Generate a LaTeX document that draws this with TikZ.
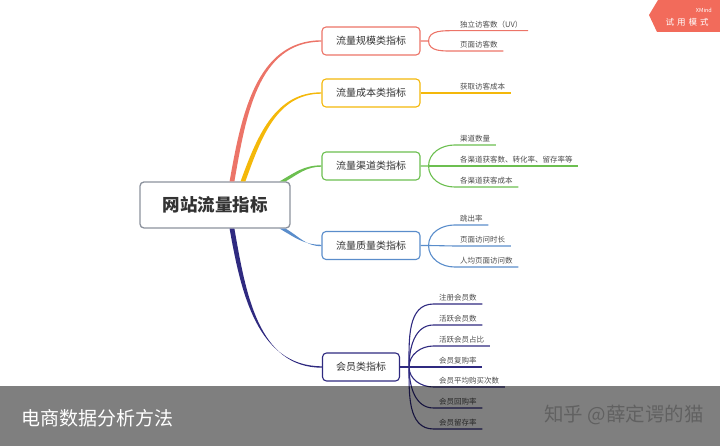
\documentclass[tikz,border=0pt]{standalone}
\usepackage{fontspec}
\setmainfont{Noto Sans CJK SC}
\usetikzlibrary{calc}
\definecolor{cred}{HTML}{EC7468}
\definecolor{cyellow}{HTML}{F4B80A}
\definecolor{cgreen}{HTML}{6CBF50}
\definecolor{cblue}{HTML}{5A8DCB}
\definecolor{cnavy}{HTML}{2F2A80}
\definecolor{cgray}{HTML}{8C929D}
\definecolor{cbadge}{HTML}{F26B5B}
% tapered trunk: colour, start, end, out angle, half width at start
\def\trunkfill[#1](#2)(#3)(#4:#5){\fill[#1] ($(#2)+(-#5,0)$) to[out=#4, in=180] ($(#3)+(0,0.7)$) -- ($(#3)+(0,-0.7)$) to[out=180, in=#4] ($(#2)+(#5,0)$) -- cycle;}
\tikzset{
	rootbox/.style={draw=cgray, line width=1.3pt, rounded corners=4pt, fill=white, minimum width=150pt, minimum height=46pt, font=\fontsize{17.5}{20}\selectfont\bfseries, text=black!80},
	topicbox/.style={draw=#1, line width=1.1pt, rounded corners=4pt, fill=white, minimum height=28pt, inner xsep=0pt, font=\fontsize{10}{12}\selectfont, text=black!80},
	leaf/.style={anchor=south west, inner xsep=5.5pt, inner ysep=2.5pt, font=\fontsize{7.5}{9}\selectfont, text=black!70},
	twig/.style={#1, line width=1.1pt},
}
\begin{document}
\begin{tikzpicture}[x=1pt, y=1pt]
			%%%%% START %%%%%
			\useasboundingbox (0,0) rectangle (720,446);
			
			\node[rootbox] (root) at (215,241) {网站流量指标};
			
			\node[topicbox=cred, minimum width=98pt] (scale) at (371,405) {流量规模类指标};
			\node[topicbox=cyellow, minimum width=98pt] (cost) at (371,353) {流量成本类指标};
			\node[topicbox=cgreen, minimum width=98pt] (channel) at (371,280) {流量渠道类指标};
			\node[topicbox=cblue, minimum width=98pt] (quality) at (371,200.5) {流量质量类指标};
			\node[topicbox=cnavy, minimum width=77pt] (member) at (361,79) {会员类指标};
			
			\coordinate (sred) at ($(root.north)+(17,0)$);
			\coordinate (syellow) at ($(root.north)+(28,0)$);
			\coordinate (sgreen) at ($(root.north east)+(-8,0)$);
			\coordinate (sblue) at ($(root.south east)+(-8,0)$);
			\coordinate (snavy) at ($(root.south)+(17,0)$);
			
			\coordinate (fscale) at ($(scale.east)+(8,0)$);
			\coordinate (fchannel) at ($(channel.east)+(8,0)$);
			\coordinate (fquality) at ($(quality.east)+(8,0)$);
			\coordinate (fmember) at ($(member.east)+(9,0)$);
			
			% leaves
			\node[leaf] (uv) at (454.5,415.3) {独立访客数（UV）};
			\node[leaf] (pv) at (454.5,395) {页面访客数};
			\node[leaf] (getcost) at (454.5,353) {获取访客成本};
			\node[leaf] (chnum) at (454.5,301) {渠道数量};
			\node[leaf] (chrate) at (454.5,280) {各渠道获客数、转化率、留存率等};
			\node[leaf] (chcost) at (454.5,259) {各渠道获客成本};
			\node[leaf] (bounce) at (454.5,221) {跳出率};
			\node[leaf] (staytime) at (454.5,200) {页面访问时长};
			\node[leaf] (pages) at (454.5,179) {人均页面访问数};
			\node[leaf] (reg) at (433.5,142) {注册会员数};
			\node[leaf] (active) at (433.5,121) {活跃会员数};
			\node[leaf] (actshare) at (433.5,100) {活跃会员占比};
			\node[leaf] (rebuy) at (433.5,79) {会员复购率};
			\node[leaf] (avgbuy) at (433.5,59) {会员平均购买次数};
			\node[leaf] (back) at (433.5,38) {会员回购率};
			\node[leaf] (keep) at (433.5,17) {会员留存率};
			
			% root to topics
			\trunkfill[cred](sred)(scale.west)(80:2.4)
			\trunkfill[cyellow](syellow)(cost.west)(70:2.4)
			\trunkfill[cgreen](sgreen)(channel.west)(30:3)
			\trunkfill[cblue](sblue)(quality.west)(-30:3)
			\trunkfill[cnavy](snavy)(member.west)(-80:2.4)
			
			% topics to leaves
			\draw[twig=cred] (scale.east) -- (fscale) to[out=90, in=180] (uv.south west) -- (uv.south east);
			\draw[twig=cred] (fscale) to[out=-90, in=180] (pv.south west) -- (pv.south east);
			
			\draw[twig=cyellow] (cost.east) -- (getcost.south west) -- (getcost.south east);
			
			\draw[twig=cgreen] (channel.east) -- (fchannel) to[out=90, in=180] (chnum.south west) -- (chnum.south east);
			\draw[twig=cgreen] (fchannel) -- (chrate.south west) -- (chrate.south east);
			\draw[twig=cgreen] (fchannel) to[out=-90, in=180] (chcost.south west) -- (chcost.south east);
			
			\draw[twig=cblue] (quality.east) -- (fquality) to[out=90, in=180] (bounce.south west) -- (bounce.south east);
			\draw[twig=cblue] (fquality) -- (staytime.south west) -- (staytime.south east);
			\draw[twig=cblue] (fquality) to[out=-90, in=180] (pages.south west) -- (pages.south east);
			
			\draw[twig=cnavy] (member.east) -- (fmember) -- (rebuy.south west) -- (rebuy.south east);
			\foreach \leafname in {reg, active, actshare}
				\draw[twig=cnavy] (fmember) to[out=90, in=180] (\leafname.south west) -- (\leafname.south east);
			\foreach \leafname in {avgbuy, back, keep}
				\draw[twig=cnavy] (fmember) to[out=-90, in=180] (\leafname.south west) -- (\leafname.south east);
			
			% badge
			\fill[cbadge] (649,431) -- (658,446) -- (720,446) -- (720,414) -- (657,414) -- cycle;
			\node[anchor=east, text=white, inner sep=0pt, font=\fontsize{5.5}{6}\selectfont] (xmind) at (712,436) {XMind};
			\node[text=white, inner sep=0pt, font=\fontsize{8.5}{9}\selectfont] (trial) at (687,424) {试\hspace{3pt}用\hspace{3pt}模\hspace{3pt}式};
			
			% band
			\fill[black, fill opacity=0.5] (0,0) rectangle (720,60);
			\node[anchor=west, text=white, inner sep=0pt, font=\fontsize{19}{22}\selectfont] (title) at (21,28) {电商数据分析方法};
			\node[anchor=east, text=black!62, inner sep=0pt, font=\fontsize{19.5}{22}\selectfont] (mark) at (704,31) {知乎 @薛定谔的猫};
			
			%%%%% END %%%%%
\end{tikzpicture}
\end{document}
